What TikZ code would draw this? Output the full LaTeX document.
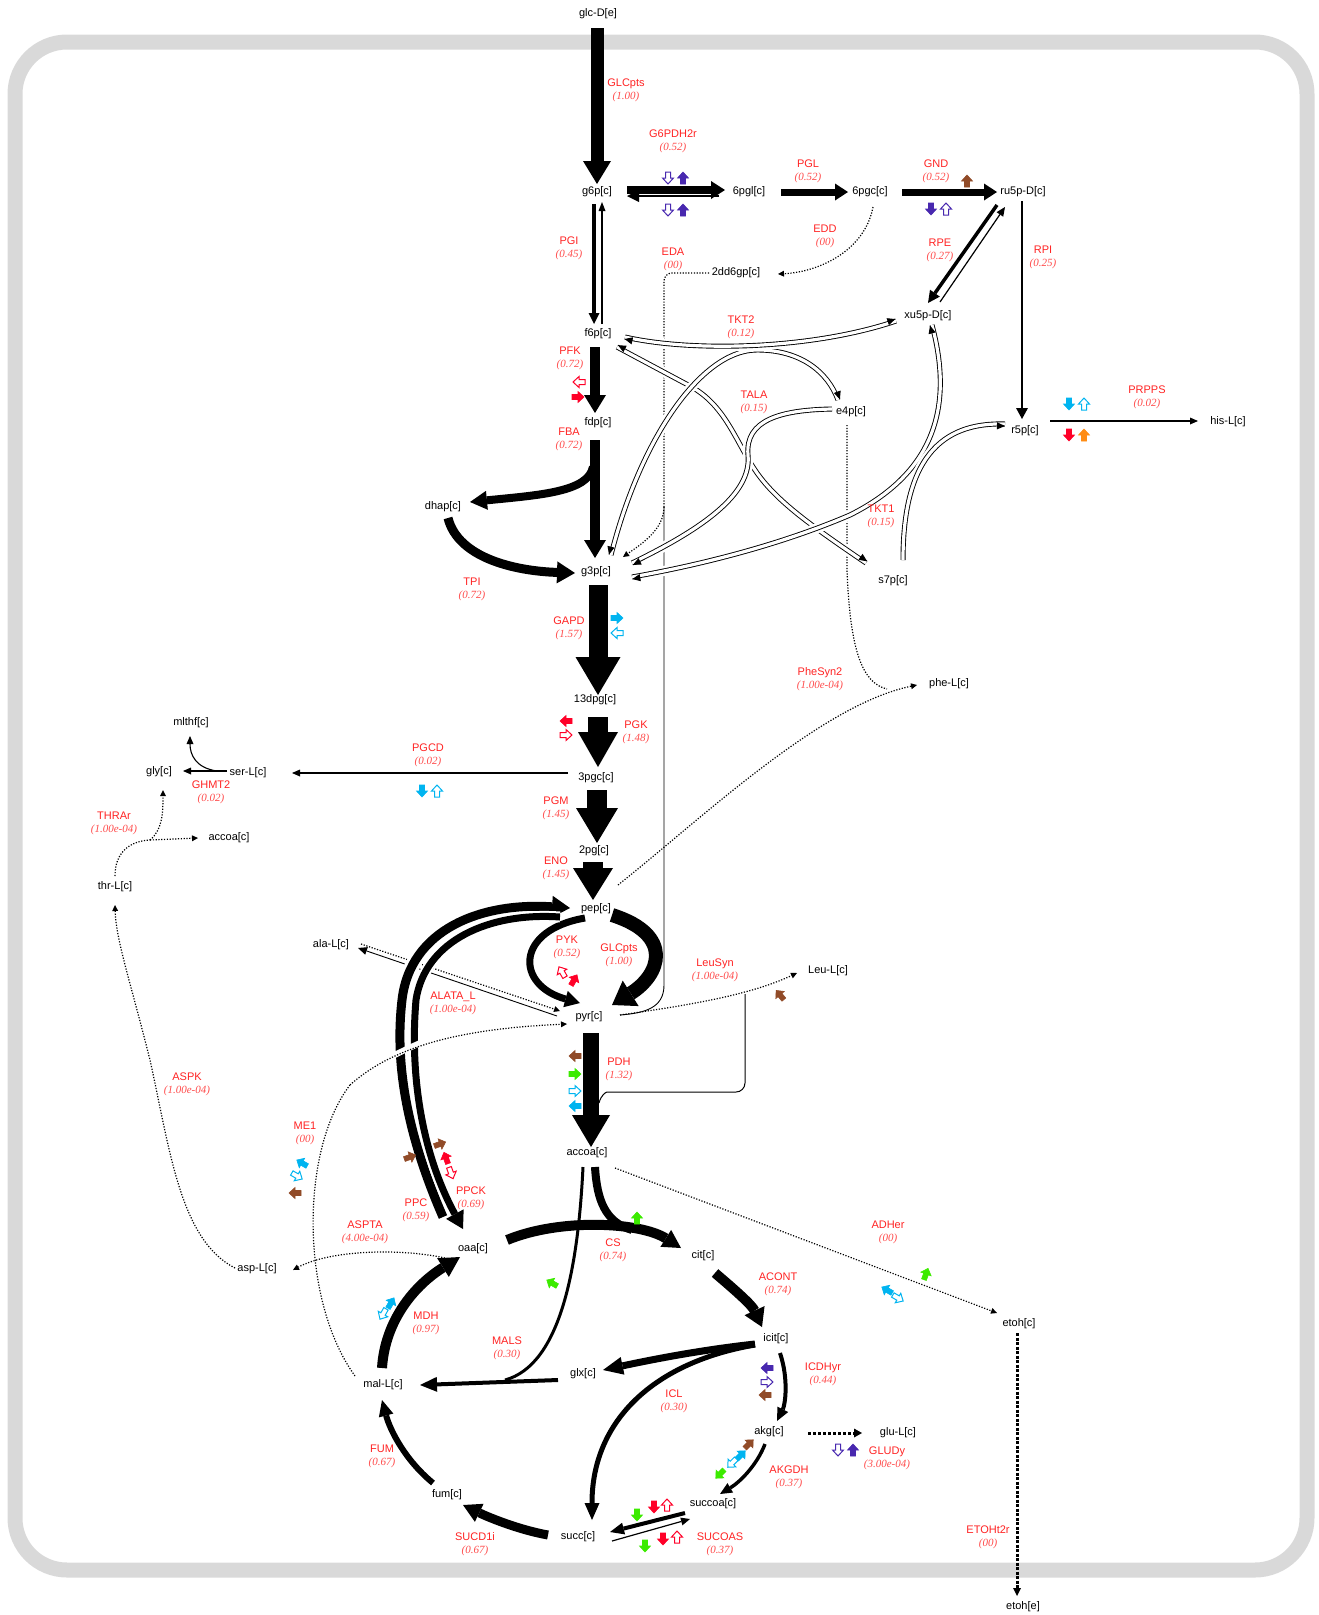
\documentclass[tikz,border=0pt]{standalone}
\usepackage{fontspec}
\setmainfont{Liberation Sans}
\newfontfamily\numfont{Liberation Serif}
\usetikzlibrary{arrows.meta,calc,decorations.markings}
\definecolor{rpur}{RGB}{72,40,175}
\definecolor{rbro}{RGB}{145,75,40}
\definecolor{rred}{RGB}{255,0,40}
\definecolor{rcya}{RGB}{0,180,240}
\definecolor{rgre}{RGB}{60,235,0}
\definecolor{rora}{RGB}{255,140,20}
\definecolor{lblred}{RGB}{255,35,35}
\definecolor{numred}{RGB}{255,75,75}
\definecolor{framegrey}{RGB}{217,217,217}
\newcommand{\flx}[1]{{\numfont\itshape\color{numred}#1}}
\newcommand{\icF}[3]{\pic[fill=#3,draw=#3,line width=0.6pt,rotate=#2] at #1 {regarr};}
\newcommand{\icH}[3]{\pic[fill=white,draw=#3,line width=1pt,rotate=#2] at #1 {regarr};}
\begin{document}
\begin{tikzpicture}[x=1pt,y=-1pt,
 met/.style={font=\fontsize{11}{12}\selectfont, inner sep=0.5pt},
 rx/.style={align=center, font=\fontsize{11}{13}\selectfont, text=lblred, inner sep=0pt},
 tri/.style 2 args={-{Triangle[width=#1,length=#2,line width=0pt]}},
 dots/.style={line width=1.2pt, dash pattern=on 1.2pt off 1.6pt},
 dbl/.style={preaction={draw=white,line width=10pt}, draw=black, line width=5pt, postaction={draw=white,line width=3.2pt}},
 tipE/.style={postaction={decorate,decoration={markings,mark=at position 1 with {\draw[line width=0.9pt,-{Triangle[width=7pt,length=8pt]}] (-6,#1) -- (0,#1);}}}},
 tipS/.style={postaction={decorate,decoration={markings,mark=at position 0 with {\draw[line width=0.9pt,-{Triangle[width=7pt,length=8pt]}] (6,#1) -- (0,#1);}}}},
 regarr/.pic={\path[pic actions] (-6,-2.5) -- (0,-2.5) -- (0,-5.5) -- (6,0) -- (0,5.5) -- (0,2.5) -- (-6,2.5) -- cycle;}
]
\useasboundingbox (0,0) rectangle (1319,1615);
\draw[framegrey, line width=15pt, rounded corners=52pt] (15,42) rectangle (1307,1570);

% metabolites
\node[met] (glc) at (598,14) {glc-D[e]};
\node[met] (g6p) at (597,192) {g6p[c]};
\node[met] (sixpgl) at (749,192) {6pgl[c]};
\node[met] (sixpgc) at (870,192) {6pgc[c]};
\node[met] (ru5p) at (1023,192) {ru5p-D[c]};
\node[met] (dd6gp) at (736,273) {2dd6gp[c]};
\node[met] (xu5p) at (928,316) {xu5p-D[c]};
\node[met] (f6p) at (598,334) {f6p[c]};
\node[met] (fdp) at (598,423) {fdp[c]};
\node[met] (e4p) at (851,412) {e4p[c]};
\node[met] (r5p) at (1025,431) {r5p[c]};
\node[met] (his) at (1228,422) {his-L[c]};
\node[met] (dhap) at (443,507) {dhap[c]};
\node[met] (g3p) at (596,572) {g3p[c]};
\node[met] (s7p) at (893,581) {s7p[c]};
\node[met] (dpg) at (595,700) {13dpg[c]};
\node[met] (phe) at (949,684) {phe-L[c]};
\node[met] (mthf) at (191,723) {mlthf[c]};
\node[met] (gly) at (159,772) {gly[c]};
\node[met] (ser) at (248,773) {ser-L[c]};
\node[met] (pgc3) at (596,778) {3pgc[c]};
\node[met] (accoaL) at (229,838) {accoa[c]};
\node[met] (thr) at (115,887) {thr-L[c]};
\node[met] (pgtwo) at (594,851) {2pg[c]};
\node[met] (pep) at (596,909) {pep[c]};
\node[met] (ala) at (331,945) {ala-L[c]};
\node[met] (pyr) at (589,1017) {pyr[c]};
\node[met] (leu) at (828,971) {Leu-L[c]};
\node[met] (accoa) at (587,1153) {accoa[c]};
\node[met] (asp) at (257,1269) {asp-L[c]};
\node[met] (oaa) at (473,1249) {oaa[c]};
\node[met] (cit) at (703,1256) {cit[c]};
\node[met] (etohc) at (1019,1324) {etoh[c]};
\node[met] (icit) at (776,1339) {icit[c]};
\node[met] (glx) at (583,1374) {glx[c]};
\node[met] (mal) at (383,1385) {mal-L[c]};
\node[met] (akg) at (769,1432) {akg[c]};
\node[met] (glu) at (898,1433) {glu-L[c]};
\node[met] (succoa) at (713,1504) {succoa[c]};
\node[met] (fum) at (447,1495) {fum[c]};
\node[met] (succ) at (578,1537) {succ[c]};
\node[met] (etohe) at (1023,1607) {etoh[e]};

% EDA and e4p dotted (under the double curves)
\coordinate (edab) at (664,507);
\draw[dots, rounded corners=8pt] ($(dd6gp)+(-27,0)$) -| (edab);
\draw[dots,tri={6pt}{6pt}] (edab) .. controls (664,530) and (640,545) .. ($(g3p)+(27,-15)$);
\draw[line width=0.9pt] (edab) -- (664,985) .. controls (664,1008) and (645,1013) .. ($(pyr)+(31,-2)$);
\draw[dots] ($(e4p)+(-4,13)$) -- (847,570) .. controls (850,650) and (862,683) .. (887,689);

% transketolase / transaldolase double curves
\draw[dbl,tipS={-2.05},tipE={-2.05}] ($(f6p)+(19,13)$) -- (690,386) .. controls (725,405) and (735,440) .. (755,470) .. controls (775,500) and (810,525) .. ($(s7p)+(-27,-18)$);
\draw[dbl,tipS={2.05},tipE={-2.05}] ($(g3p)+(36,-9)$) .. controls (700,530) and (752,495) .. (748,455) .. controls (745,420) and (780,410) .. ($(e4p)+(-19,-3)$);
\draw[dbl,tipS={2.05},tipE={-2.05}] ($(xu5p)+(4,9)$) .. controls (952,400) and (940,470) .. (850,515) .. controls (780,545) and (700,565) .. ($(g3p)+(36,5)$);
\draw[dbl,tipS={-2.05},tipE={2.05}] ($(r5p)+(-20,-7)$) .. controls (940,422) and (903,460) .. ($(s7p)+(10,-21)$);
\draw[dbl,tipS={-2.05},tipE={-2.05}] ($(g3p)+(15,-17)$) .. controls (640,440) and (700,352) .. (755,350) .. controls (800,349) and (828,372) .. ($(e4p)+(-13,-12)$);
\draw[dbl,tipS={2.05},tipE={-2.05}] ($(f6p)+(27,3)$) .. controls (690,352) and (810,350) .. ($(xu5p)+(-32,5)$);

% upper glycolysis and PPP
\draw[line width=13pt,tri={28pt}{23pt}] ($(glc)+(-1,14)$) -- ($(g6p)+(0,-8)$);
\draw[line width=8pt,tri={18pt}{14pt}] ($(g6p)+(30,-2)$) -- ($(sixpgl)+(-24,-2)$);
\draw[line width=2pt,tri={12pt}{12pt}] ($(sixpgl)+(-30,4)$) -- ($(g6p)+(30,4)$);
\draw[line width=7pt,tri={17pt}{13pt}] ($(sixpgl)+(32,0)$) -- ($(sixpgc)+(-22,0)$);
\draw[line width=7pt,tri={17pt}{13pt}] ($(sixpgc)+(32,0)$) -- ($(ru5p)+(-26,0)$);
\draw[line width=4.5pt,tri={11pt}{11pt}] ($(g6p)+(-3,12)$) -- ($(f6p)+(-4,-10)$);
\draw[line width=1.3pt,tri={7pt}{9pt}] ($(f6p)+(4,-10)$) -- ($(g6p)+(5,10)$);
\draw[dots,tri={6pt}{6pt}] ($(sixpgc)+(3,15)$) .. controls (865,250) and (820,272) .. ($(dd6gp)+(42,1)$);
\draw[line width=3.5pt,tri={12pt}{12pt}] ($(ru5p)+(-26,13)$) -- ($(xu5p)+(0,-13)$);
\draw[line width=1.2pt,tri={8pt}{9pt}] ($(xu5p)+(12,-14)$) -- ($(ru5p)+(-18,15)$);
\draw[line width=2.5pt,tri={12pt}{11pt}] ($(ru5p)+(-1,9)$) -- ($(r5p)+(-3,-12)$);
\draw[line width=1.1pt,tri={7pt}{8pt}] ($(r5p)+(25,-10)$) -- ($(his)+(-30,-1)$);
\draw[line width=10pt,tri={22pt}{18pt}] ($(f6p)+(-3,13)$) -- ($(fdp)+(-3,-10)$);
\draw[line width=10pt,tri={22pt}{18pt}] ($(fdp)+(-3,17)$) -- ($(g3p)+(-1,-14)$);
\draw[line width=8pt,tri={19pt}{17pt}] ($(fdp)+(-5,44)$) .. controls (588,492) and (540,495) .. ($(dhap)+(27,-5)$);
\draw[line width=9pt,tri={22pt}{18pt}] ($(dhap)+(5,11)$) .. controls (458,558) and (515,571) .. ($(g3p)+(-21,1)$);

% lower glycolysis
\draw[line width=19pt,tri={45pt}{38pt}] ($(g3p)+(2,13)$) -- ($(dpg)+(3,-5)$);
\draw[line width=20pt,tri={40pt}{35pt}] ($(dpg)+(3,17)$) -- ($(pgc3)+(2,-11)$);
\draw[line width=20pt,tri={42pt}{35pt}] ($(pgc3)+(1,12)$) -- ($(pgtwo)+(3,-8)$);
\draw[line width=20pt,tri={40pt}{32pt}] ($(pgtwo)+(-1,11)$) -- ($(pep)+(-3,-9)$);
\draw[line width=7pt,tri={17pt}{15pt}] ($(pep)+(-11,9)$) .. controls (515,930) and (515,985) .. ($(pyr)+(-9,-14)$);
\draw[line width=14pt,tri={30pt}{22pt}] ($(pep)+(16,6)$) .. controls (675,935) and (660,975) .. ($(pyr)+(23,-12)$);
\draw[line width=16pt,tri={38pt}{32pt}] ($(pyr)+(2,16)$) -- ($(accoa)+(4,-6)$);

% side branches
\draw[dots,tri={6pt}{6pt}] ($(pep)+(22,-24)$) .. controls (700,820) and (820,705) .. ($(phe)+(-32,1)$);
\draw[dots,tri={6pt}{6pt}] ($(pyr)+(31,-2)$) .. controls (690,1005) and (750,995) .. ($(leu)+(-31,2)$);
\draw[line width=1pt, rounded corners=9pt] ($(accoa)+(12,-50)$) .. controls (601,1095) and (606,1092) .. (616,1092) -- (745,1092) -- (745,994);
\draw[line width=1.1pt,tri={7pt}{8pt}] ($(pgc3)+(-28,-5)$) -- ($(ser)+(44,0)$);
\draw[line width=1.1pt,tri={7pt}{8pt}] ($(ser)+(-21,-2)$) -- ($(gly)+(24,-1)$);
\draw[line width=1.1pt,tri={7pt}{8pt}] ($(ser)+(-31,-2)$) .. controls (196,768) and (190,755) .. ($(mthf)+(-1,13)$);
\coordinate (thrb) at (150,840);
\draw[dots] ($(thr)+(0,-11)$) .. controls (115,852) and (130,841) .. (thrb);
\draw[dots,tri={6pt}{6pt}] (thrb) -- ($(accoaL)+(-31,0)$);
\draw[dots,tri={6pt}{6pt}] (thrb) .. controls (162,830) and (163,815) .. ($(gly)+(4,18)$);
\draw[dots,tri={6pt}{6pt}] ($(asp)+(-22,-1)$) .. controls (180,1240) and (170,1150) .. (150,1060) .. controls (130,980) and (116,940) .. ($(thr)+(0,18)$);
\draw[dots,tri={6pt}{6pt}] ($(ala)+(30,-1)$) -- ($(pyr)+(-29,-6)$);
\draw[line width=0.9pt,tri={8pt}{9pt}] ($(pyr)+(-32,-1)$) -- ($(ala)+(27,3)$);

% PPC / PPCK
\draw[preaction={draw=white,line width=15pt}, line width=9pt, tri={22pt}{18pt}] ($(oaa)+(-30,-32)$) .. controls (405,1130) and (395,1060) .. (402,1000) .. controls (410,930) and (480,902) .. ($(pep)+(-26,-1)$);
\draw[preaction={draw=white,line width=11pt}, line width=7pt, tri={20pt}{17pt}] ($(pep)+(-36,8)$) .. controls (490,912) and (425,940) .. (416,1000) .. controls (410,1070) and (420,1150) .. ($(oaa)+(-10,-20)$);

% ME1
\coordinate (me1m) at (350,1085);
\draw[dots] ($(mal)+(-28,-9)$) .. controls (300,1300) and (300,1150) .. (me1m);
\draw[dots, preaction={draw=white,line width=6pt,solid,shorten >=130pt}, tri={6pt}{6pt}] (me1m) .. controls (400,1040) and (480,1028) .. ($(pyr)+(-22,7)$);

% TCA
\draw[line width=10pt,tri={20pt}{18pt}] ($(oaa)+(34,-9)$) .. controls (560,1218) and (640,1222) .. ($(cit)+(-22,-8)$);
\draw[line width=8pt] ($(accoa)+(8,14)$) .. controls (597,1200) and (605,1222) .. ($(cit)+(-71,-26)$);
\draw[line width=3pt] ($(accoa)+(-4,14)$) .. controls (578,1270) and (560,1365) .. ($(mal)+(122,-5)$);
\draw[line width=4pt,tri={15pt}{17pt}] ($(glx)+(-25,6)$) -- ($(mal)+(37,0)$);
\draw[line width=10pt,tri={22pt}{18pt}] ($(cit)+(12,17)$) .. controls (735,1290) and (752,1305) .. ($(icit)+(-14,-12)$);
\draw[line width=7pt,tri={18pt}{20pt}] ($(icit)+(-21,5)$) .. controls (700,1350) and (650,1360) .. ($(glx)+(20,-4)$);
\draw[line width=5pt,tri={15pt}{17pt}] ($(icit)+(-21,6)$) .. controls (655,1362) and (592,1420) .. ($(succ)+(14,-17)$);
\draw[line width=4pt,tri={12pt}{13pt}] ($(icit)+(4,14)$) .. controls (789,1380) and (785,1405) .. ($(akg)+(8,-11)$);
\draw[line width=3pt, dash pattern=on 3pt off 2pt, tri={9pt}{8pt}] ($(akg)+(39,1)$) -- ($(glu)+(-36,0)$);
\draw[line width=3.5pt,tri={11pt}{12pt}] ($(akg)+(-4,12)$) .. controls (757,1465) and (740,1482) .. ($(succoa)+(7,-10)$);
\draw[line width=4pt,tri={12pt}{14pt}] ($(succoa)+(-28,9)$) -- ($(succ)+(32,-5)$);
\draw[line width=1.2pt,tri={8pt}{9pt}] ($(succ)+(34,4)$) -- ($(succoa)+(-23,15)$);
\draw[line width=9pt,tri={20pt}{18pt}] ($(succ)+(-30,-2)$) .. controls (520,1530) and (490,1518) .. ($(fum)+(16,10)$);
\draw[line width=6pt,tri={15pt}{16pt}] ($(fum)+(-14,-12)$) .. controls (405,1460) and (390,1430) .. ($(mal)+(-1,15)$);
\draw[line width=10pt,tri={22pt}{20pt}] ($(mal)+(-1,-17)$) .. controls (385,1320) and (415,1285) .. ($(oaa)+(-13,8)$);
\draw[dots,tri={6pt}{6pt}] ($(oaa)+(-28,9)$) .. controls (400,1248) and (330,1250) .. ($(asp)+(36,1)$);
\draw[dots,tri={6pt}{6pt}] ($(accoa)+(28,15)$) -- ($(etohc)+(-22,-11)$);
\draw[line width=3pt,dash pattern=on 3pt off 1.5pt,tri={8pt}{8pt}] ($(etohc)+(-2,9)$) -- ($(etohe)+(-6,-11)$);

% reaction labels
\node[rx] (lGLC) at (626,90.5) {GLCpts\\\flx{(1.00)}};
\node[rx] (lG6P) at (673,141.5) {G6PDH2r\\\flx{(0.52)}};
\node[rx] (lPGL) at (808,171) {PGL\\\flx{(0.52)}};
\node[rx] (lGND) at (936,171) {GND\\\flx{(0.52)}};
\node[rx] (lPGI) at (569,248) {PGI\\\flx{(0.45)}};
\node[rx] (lEDA) at (673,259) {EDA\\\flx{(00)}};
\node[rx] (lEDD) at (825,236.5) {EDD\\\flx{(00)}};
\node[rx] (lRPE) at (940,250) {RPE\\\flx{(0.27)}};
\node[rx] (lRPI) at (1043,257.5) {RPI\\\flx{(0.25)}};
\node[rx] (lPRPPS) at (1147,397.5) {PRPPS\\\flx{(0.02)}};
\node[rx] (lPFK) at (570,358.5) {PFK\\\flx{(0.72)}};
\node[rx] (lFBA) at (569,439.5) {FBA\\\flx{(0.72)}};
\node[rx] (lTPI) at (472,589.5) {TPI\\\flx{(0.72)}};
\node[rx] (lTKT2) at (741,327.5) {TKT2\\\flx{(0.12)}};
\node[rx] (lTALA) at (754,402) {TALA\\\flx{(0.15)}};
\node[rx] (lTKT1) at (881,516.5) {TKT1\\\flx{(0.15)}};
\node[rx] (lGAPD) at (569,628.5) {GAPD\\\flx{(1.57)}};
\node[rx] (lPHE) at (820,679.5) {PheSyn2\\\flx{(1.00e-04)}};
\node[rx] (lPGK) at (636,732.5) {PGK\\\flx{(1.48)}};
\node[rx] (lPGCD) at (428,755.5) {PGCD\\\flx{(0.02)}};
\node[rx] (lGHMT) at (211,792.5) {GHMT2\\\flx{(0.02)}};
\node[rx] (lTHR) at (114,823.5) {THRAr\\\flx{(1.00e-04)}};
\node[rx] (lPGM) at (556,808.5) {PGM\\\flx{(1.45)}};
\node[rx] (lENO) at (556,868.5) {ENO\\\flx{(1.45)}};
\node[rx] (lPYK) at (567,947.5) {PYK\\\flx{(0.52)}};
\node[rx] (lGLC2) at (619,955.5) {GLCpts\\\flx{(1.00)}};
\node[rx] (lLEU) at (715,970.5) {LeuSyn\\\flx{(1.00e-04)}};
\node[rx] (lALA) at (453,1003.5) {ALATA\_L\\\flx{(1.00e-04)}};
\node[rx] (lPDH) at (619,1069.5) {PDH\\\flx{(1.32)}};
\node[rx] (lASPK) at (187,1084) {ASPK\\\flx{(1.00e-04)}};
\node[rx] (lME1) at (305,1133.5) {ME1\\\flx{(00)}};
\node[rx] (lPPCK) at (471,1198.5) {PPCK\\\flx{(0.69)}};
\node[rx] (lPPC) at (416,1210.5) {PPC\\\flx{(0.59)}};
\node[rx] (lASPTA) at (365,1232.5) {ASPTA\\\flx{(4.00e-04)}};
\node[rx] (lCS) at (613,1250.5) {CS\\\flx{(0.74)}};
\node[rx] (lADH) at (888,1232.5) {ADHer\\\flx{(00)}};
\node[rx] (lACONT) at (778,1284.5) {ACONT\\\flx{(0.74)}};
\node[rx] (lMDH) at (426,1323.5) {MDH\\\flx{(0.97)}};
\node[rx] (lMALS) at (507,1348.5) {MALS\\\flx{(0.30)}};
\node[rx] (lICD) at (823,1374.5) {ICDHyr\\\flx{(0.44)}};
\node[rx] (lICL) at (674,1401.5) {ICL\\\flx{(0.30)}};
\node[rx] (lGLUDy) at (887,1458.5) {GLUDy\\\flx{(3.00e-04)}};
\node[rx] (lAKGDH) at (789,1477.5) {AKGDH\\\flx{(0.37)}};
\node[rx] (lFUM) at (382,1456) {FUM\\\flx{(0.67)}};
\node[rx] (lSUCD) at (475,1544.5) {SUCD1i\\\flx{(0.67)}};
\node[rx] (lSUCOAS) at (720,1544.5) {SUCOAS\\\flx{(0.37)}};
\node[rx] (lETOH) at (988,1537) {ETOHt2r\\\flx{(00)}};

% regulation marks
\icH{(668,178)}{270}{rpur} \icF{(683,178)}{90}{rpur}
\icH{(668,210)}{270}{rpur} \icF{(683,210)}{90}{rpur}
\icF{(967,181)}{90}{rbro}
\icF{(931,209)}{270}{rpur} \icH{(946,209)}{90}{rpur}
\icH{(579,382)}{180}{rred} \icF{(578,397)}{0}{rred}
\icF{(1069,404)}{270}{rcya} \icH{(1084,404)}{90}{rcya}
\icF{(1069,435)}{270}{rred} \icF{(1084,435)}{90}{rora}
\icF{(617,618)}{0}{rcya} \icH{(617,633)}{180}{rcya}
\icF{(566,721)}{180}{rred} \icH{(566,735)}{0}{rred}
\icF{(422,791)}{270}{rcya} \icH{(437,791)}{90}{rcya}
\icH{(562,972)}{120}{rred} \icF{(574,980)}{60}{rred}
\icF{(780,995)}{130}{rbro}
\icF{(575,1056)}{180}{rbro} \icF{(575,1074)}{0}{rgre}
\icH{(575,1091)}{0}{rcya} \icF{(575,1106)}{180}{rcya}
\icF{(410,1157)}{20}{rbro} \icF{(440,1144)}{20}{rbro}
\icF{(446,1158)}{110}{rred} \icH{(451,1173)}{-70}{rred}
\icF{(302,1163)}{150}{rcya} \icH{(297,1176)}{-30}{rcya} \icF{(295,1193)}{180}{rbro}
\icF{(637,1218)}{90}{rgre}
\icF{(552,1283)}{150}{rgre}
\icF{(926,1274)}{70}{rgre} \icF{(887,1290)}{150}{rcya} \icH{(898,1298)}{-30}{rcya}
\icF{(391,1303)}{60}{rcya} \icH{(383,1314)}{-120}{rcya}
\icF{(767,1368)}{180}{rpur} \icH{(767,1382)}{0}{rpur} \icF{(765,1395)}{180}{rbro}
\icH{(838,1450)}{270}{rpur} \icF{(853,1450)}{90}{rpur}
\icF{(749,1444)}{45}{rbro} \icF{(741,1455)}{45}{rcya} \icH{(732,1463)}{-135}{rcya} \icF{(720,1474)}{-135}{rgre}
\icF{(637,1515)}{270}{rgre} \icF{(654,1507)}{270}{rred} \icH{(667,1505)}{90}{rred}
\icF{(645,1546)}{270}{rgre} \icF{(663,1539)}{270}{rred} \icH{(677,1537)}{90}{rred}
\end{tikzpicture}
\end{document}
